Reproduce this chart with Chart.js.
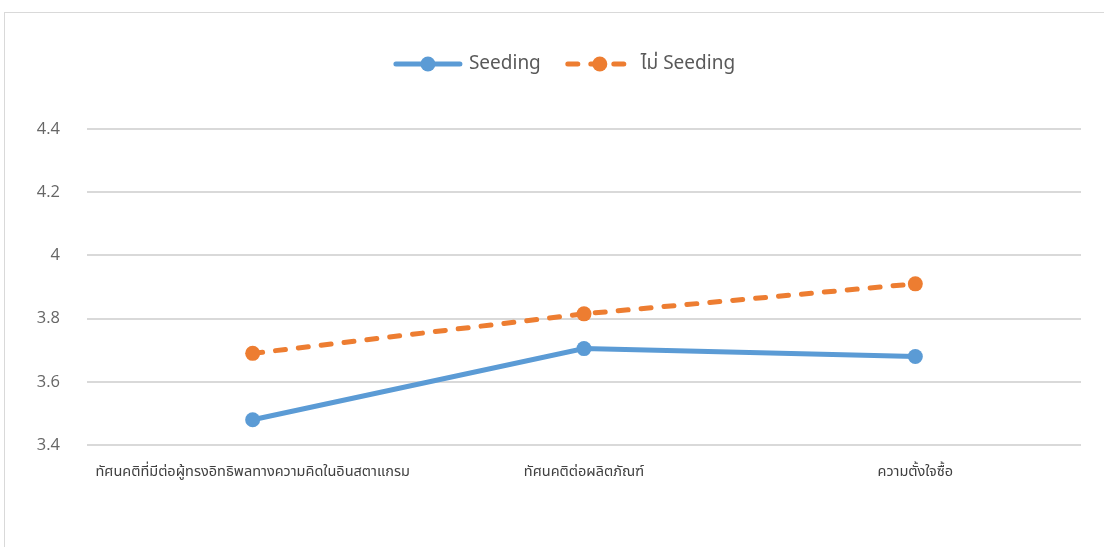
<!DOCTYPE html>
<html>
<head>
<meta charset="utf-8">
<script src="https://cdn.jsdelivr.net/npm/chart.js@4/dist/chart.umd.min.js"></script>
<style>
    body { margin: 0; background: #fff; overflow: hidden; }
    #wrap { position: relative; width: 1104px; height: 547px; }
    #frame { position: absolute; left: 4px; top: 12px; width: 1200px; height: 600px; border-top: 1px solid #d9d9d9; border-left: 1px solid #d9d9d9; }
    canvas { position: absolute; left: 0; top: 0; }
</style>
</head>
<body>
<div id="wrap">
    <div id="frame"></div>
    <canvas id="line_chart" width="1104" height="547"></canvas>
</div>
<script>
// カテゴリと系列の値
const categories = ['ทัศนคติที่มีต่อผู้ทรงอิทธิพลทางความคิดในอินสตาแกรม', 'ทัศนคติต่อผลิตภัณฑ์', 'ความตั้งใจซื้อ'];
const seedingValues = [3.48, 3.705, 3.68];
const noSeedingValues = [3.69, 3.815, 3.91];
const seriesNames = ['Seeding', 'ไม่ Seeding'];
const yTicks = [3.4, 3.6, 3.8, 4, 4.2, 4.4];

const thaiFont = "'Segoe UI', 'Noto Sans Thai', 'Leelawadee UI', Tahoma, 'Noto Sans', sans-serif";

// 凡例を線＋マーカーで描く
const lineLegend = {
    id: 'lineLegend',
    afterDraw(chart) {
        const ctx = chart.ctx;
        const y = 64;
        const lineW = 70;
        ctx.save();
        ctx.font = '19px ' + thaiFont;
        const items = chart.data.datasets.map(ds => ({ ds: ds, w: lineW + 6 + ctx.measureText(ds.label).width }));
        const gap = 24;
        const total = items.reduce((a, it) => a + it.w, 0) + gap * (items.length - 1);
        let x = 564 - total / 2;
        items.forEach(it => {
            const ds = it.ds;
            ctx.strokeStyle = ds.borderColor;
            ctx.lineWidth = ds.borderWidth;
            ctx.lineCap = 'round';
            ctx.setLineDash(ds.borderDash || []);
            ctx.beginPath();
            ctx.moveTo(x + 3, y);
            ctx.lineTo(x + lineW - 3, y);
            ctx.stroke();
            ctx.setLineDash([]);
            ctx.fillStyle = ds.pointBackgroundColor;
            ctx.beginPath();
            ctx.arc(x + lineW / 2, y, ds.pointRadius, 0, Math.PI * 2);
            ctx.fill();
            ctx.fillStyle = '#595959';
            ctx.textBaseline = 'middle';
            ctx.textAlign = 'left';
            ctx.fillText(ds.label, x + lineW + 6, y + 1);
            x += it.w + gap;
        });
        ctx.restore();
    }
};

let lineContext = document.querySelector('#line_chart').getContext('2d');
let lineChart = new Chart(lineContext, {
    type: 'line',
    data: {
        labels: categories,
        datasets: [{
            label: seriesNames[0],
            data: seedingValues,
            borderColor: 'rgba(91,155,213,1)',
            backgroundColor: 'rgba(91,155,213,1)',
            pointBackgroundColor: 'rgba(91,155,213,1)',
            pointBorderColor: 'rgba(91,155,213,1)',
            borderWidth: 5,
            borderCapStyle: 'round',
            pointRadius: 7.5,
            pointBorderWidth: 0,
            tension: 0
        }, {
            label: seriesNames[1],
            data: noSeedingValues,
            borderColor: 'rgba(237,125,49,1)',
            backgroundColor: 'rgba(237,125,49,1)',
            pointBackgroundColor: 'rgba(237,125,49,1)',
            pointBorderColor: 'rgba(237,125,49,1)',
            borderWidth: 5,
            borderDash: [10, 13],
            borderCapStyle: 'round',
            pointRadius: 7.5,
            pointBorderWidth: 0,
            tension: 0
        }]
    },
    options: {
        responsive: false,
        animation: false,
        layout: { padding: { top: 129, right: 23, bottom: 62, left: 0 } },
        plugins: {
            legend: { display: false },
            tooltip: { enabled: false }
        },
        scales: {
            x: {
                offset: true,
                grid: { display: false, drawTicks: false },
                border: { display: false },
                ticks: {
                    color: '#404040',
                    font: { size: 14.5, family: thaiFont },
                    padding: 19,
                    maxRotation: 0,
                    autoSkip: false
                },
                afterFit(scale) { scale.height = 40; }
            },
            y: {
                min: 3.4,
                max: 4.4,
                afterBuildTicks(scale) { scale.ticks = yTicks.map(v => ({ value: v })); },
                grid: { color: '#d9d9d9', lineWidth: 2, drawTicks: false },
                border: { display: false },
                ticks: {
                    color: '#666666',
                    font: { size: 16.5, family: "'Segoe UI', 'Open Sans', 'Noto Sans', sans-serif" },
                    padding: 27,
                    callback: v => String(v)
                },
                afterFit(scale) { scale.width = 87; }
            }
        }
    },
    plugins: [lineLegend]
});
</script>
</body>
</html>
